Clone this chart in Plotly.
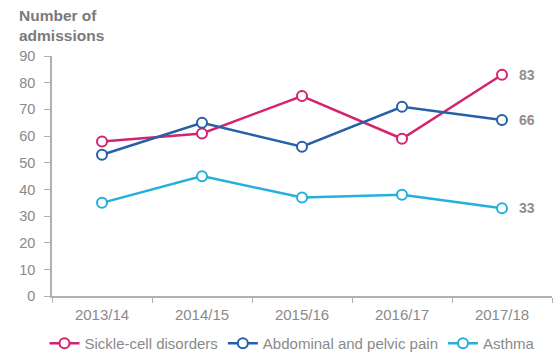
import plotly.graph_objects as go

years = ["2013/14", "2014/15", "2015/16", "2016/17", "2017/18"]
sickle_cell = [58, 61, 75, 59, 83]
abdominal_pelvic = [53, 65, 56, 71, 66]
asthma = [35, 45, 37, 38, 33]

series = [
    ("Sickle-cell disorders", sickle_cell, "#d4236f"),
    ("Abdominal and pelvic pain", abdominal_pelvic, "#2660a8"),
    ("Asthma", asthma, "#25afdd"),
]

grey = "#8a8a8a"
font_family = "Arial, Liberation Sans, sans-serif"

fig = go.Figure()
end_labels = []
for name, vals, color in series:
    fig.add_trace(go.Scatter(
        x=years, y=vals, name=name,
        mode="lines+markers",
        line=dict(color=color, width=2.5),
        marker=dict(symbol="circle", size=10, color="white",
                    line=dict(color=color, width=2)),
        cliponaxis=False,
    ))
    # value label beside the final point of each series
    end_labels.append(dict(
        x=years[-1], y=vals[-1], xref="x", yref="y",
        text=f"<b>{vals[-1]}</b>", showarrow=False,
        xanchor="left", yanchor="middle", xshift=15,
        font=dict(size=14, color="#958b8b"),
    ))

title = dict(
    text="<b>Number of<br>admissions</b>", xref="paper", yref="paper",
    x=-0.07, y=1.0, xanchor="left", yanchor="bottom", yshift=10,
    showarrow=False, align="left",
    font=dict(size=15.5, color="#7a7a7a"),
)

fig.update_layout(
    width=556, height=356,
    margin=dict(l=52, r=4, t=56, b=58),
    paper_bgcolor="white", plot_bgcolor="white",
    font=dict(family=font_family, size=14, color=grey),
    showlegend=True,
    legend=dict(orientation="h", xref="container", yref="container",
                x=0.08, y=0.035, xanchor="left", yanchor="middle",
                font=dict(size=15, color=grey),
                tracegroupgap=0),
    annotations=end_labels + [title],
)
fig.update_xaxes(
    type="category", range=[-0.5, 4.5],
    showline=True, linecolor="#b0b0b0", linewidth=1.5,
    ticks="outside", ticklen=5, tickcolor="#b0b0b0",
    tickson="boundaries", showgrid=False,
    tickfont=dict(size=15, color=grey),
    ticklabelstandoff=4,
)
fig.update_yaxes(
    range=[0, 90], dtick=10,
    showline=True, linecolor="#b0b0b0", linewidth=1.5,
    ticks="outside", ticklen=6, tickcolor="#b0b0b0",
    showgrid=False, zeroline=False,
    tickfont=dict(size=14.5, color=grey),
    ticklabelstandoff=6,
)

fig.write_html("out.html")
